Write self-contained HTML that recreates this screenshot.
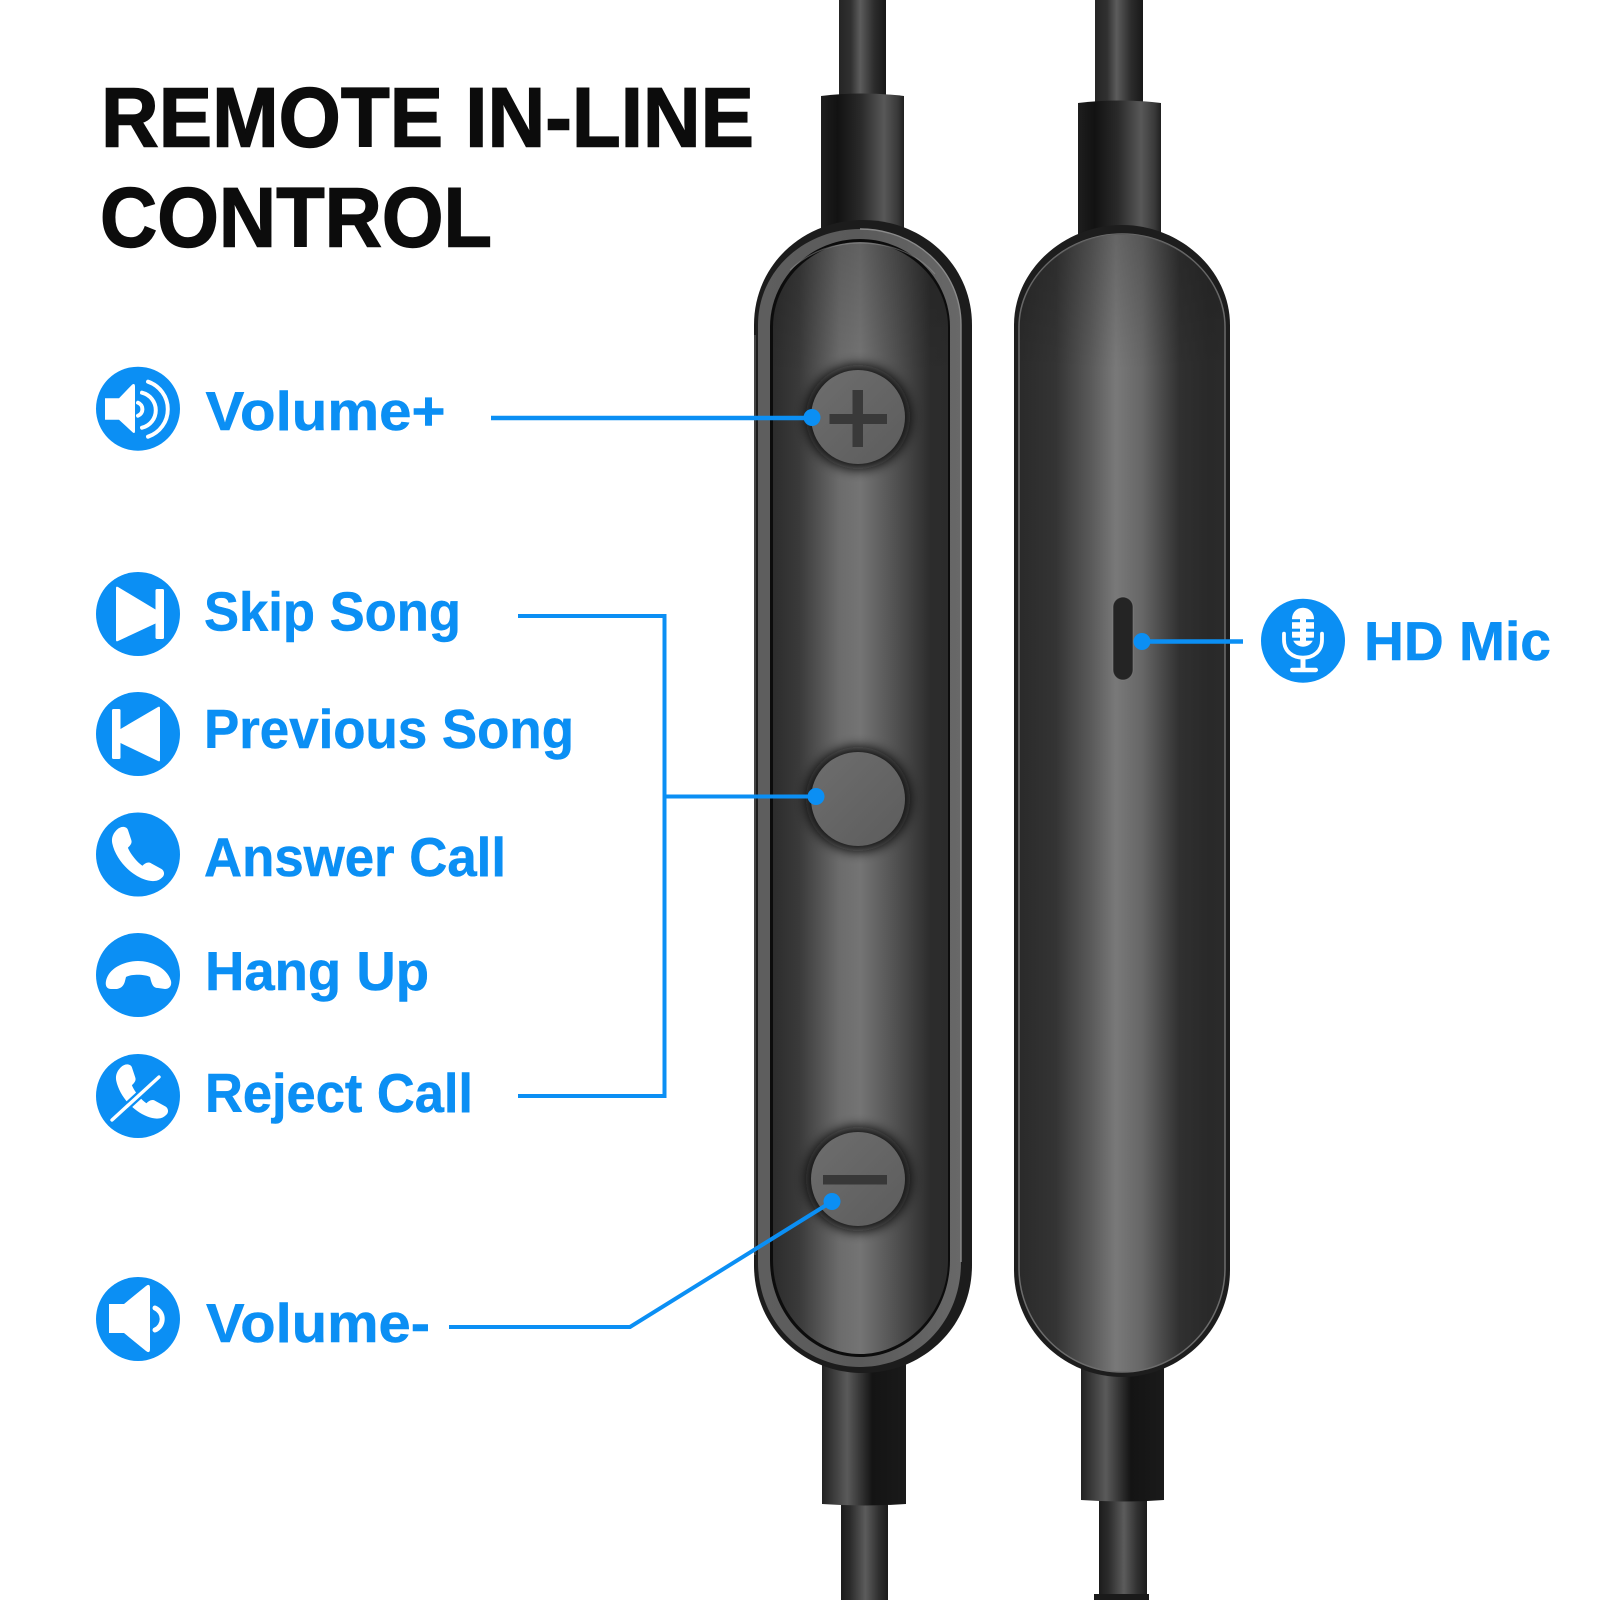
<!DOCTYPE html>
<html><head><meta charset="utf-8"><style>
html,body{margin:0;padding:0;background:#fff}
svg{display:block}
text{font-family:"Liberation Sans",Arial,sans-serif;font-weight:700}
.l{font-size:55px;fill:#0b8ff4;stroke:#0b8ff4;stroke-width:.5}
.t{font-size:84px;fill:#0c0c0c;stroke:#0c0c0c;stroke-width:1.4}
</style></head><body>
<svg width="1600" height="1600" viewBox="0 0 1600 1600" xmlns="http://www.w3.org/2000/svg">
<defs>
<linearGradient id="cordT" x1="0" x2="1" y1="0" y2="0"><stop offset="0" stop-color="#252525"/><stop offset=".25" stop-color="#303030"/><stop offset=".45" stop-color="#5c5c5c"/><stop offset=".75" stop-color="#2c2c2c"/><stop offset="1" stop-color="#181818"/></linearGradient>
<linearGradient id="cordB" x1="0" x2="1" y1="0" y2="0"><stop offset="0" stop-color="#1c1c1c"/><stop offset=".2" stop-color="#2c2c2c"/><stop offset=".52" stop-color="#5c5c5c"/><stop offset=".8" stop-color="#303030"/><stop offset="1" stop-color="#1c1c1c"/></linearGradient>
<linearGradient id="colT" x1="0" x2="1" y1="0" y2="0"><stop offset="0" stop-color="#1e1e1e"/><stop offset=".2" stop-color="#121212"/><stop offset=".48" stop-color="#2a2a2a"/><stop offset=".76" stop-color="#585858"/><stop offset=".92" stop-color="#3a3a3a"/><stop offset="1" stop-color="#202020"/></linearGradient>
<linearGradient id="colB" x1="0" x2="1" y1="0" y2="0"><stop offset="0" stop-color="#222"/><stop offset=".3" stop-color="#5a5a5a"/><stop offset=".6" stop-color="#141414"/><stop offset="1" stop-color="#1a1a1a"/></linearGradient>
<linearGradient id="inL" x1="0" x2="1" y1="0" y2="0"><stop offset="0" stop-color="#2c2c2c"/><stop offset=".15" stop-color="#3a3a3a"/><stop offset=".38" stop-color="#6c6c6c"/><stop offset=".5" stop-color="#747474"/><stop offset=".72" stop-color="#4e4e4e"/><stop offset=".9" stop-color="#2c2c2c"/><stop offset="1" stop-color="#2b2b2b"/></linearGradient>
<linearGradient id="inR" x1="0" x2="1" y1="0" y2="0"><stop offset="0" stop-color="#2a2a2a"/><stop offset=".18" stop-color="#343434"/><stop offset=".35" stop-color="#5a5a5a"/><stop offset=".47" stop-color="#797979"/><stop offset=".6" stop-color="#666"/><stop offset=".78" stop-color="#303030"/><stop offset=".92" stop-color="#292929"/><stop offset="1" stop-color="#2a2a2a"/></linearGradient>
<linearGradient id="bez" x1="0" x2="1" y1="0" y2="0"><stop offset="0" stop-color="#5e5e5e"/><stop offset=".5" stop-color="#5a5a5a"/><stop offset="1" stop-color="#686868"/></linearGradient>
<linearGradient id="btn" x1="0" x2="1" y1="0" y2="1"><stop offset="0" stop-color="#6e6e6e"/><stop offset="1" stop-color="#5c5c5c"/></linearGradient>
<linearGradient id="topShade" x1="0" x2="0" y1="0" y2="1" gradientUnits="objectBoundingBox"><stop offset="0" stop-color="#000" stop-opacity=".16"/><stop offset=".12" stop-color="#000" stop-opacity="0"/></linearGradient>
<filter id="bl" x="-30%" y="-30%" width="160%" height="160%"><feGaussianBlur stdDeviation="6"/></filter>
</defs>
<rect width="1600" height="1600" fill="#fff"/>

<!-- cords -->
<rect x="839" y="0" width="47" height="100" fill="url(#cordT)"/>
<rect x="1095" y="0" width="48" height="106" fill="url(#cordT)"/>
<rect x="841" y="1495" width="47" height="105" fill="url(#cordB)"/>
<rect x="1099" y="1495" width="48" height="105" fill="url(#cordB)"/>
<rect x="1094" y="1594" width="55" height="6" fill="#1a1a1a"/>

<!-- collars -->
<path d="M821,96 Q862,91 904,96 L904,240 L821,240 Z" fill="url(#colT)"/>
<path d="M1078,103 Q1120,98 1161,103 L1161,240 L1078,240 Z" fill="url(#colT)"/>
<path d="M822,1360 L906,1360 L906,1504 Q864,1507 822,1504 Z" fill="url(#colB)"/>
<path d="M1081,1360 L1164,1360 L1164,1500 Q1122,1503 1081,1500 Z" fill="url(#colB)"/>

<!-- left body -->
<path d="M754,325 C754,265 803,220 863,220 C923,220 972,265 972,325 L972,1265 C972,1327 923,1373 863,1373 C803,1373 754,1327 754,1265 Z" fill="#1c1c1c"/>
<path d="M758,325 C758,270 805,229 860,229 C915,229 961,270 961,325 L961,1262 C961,1324 915,1367 860,1367 C805,1367 758,1324 758,1262 Z" fill="url(#bez)"/>
<path d="M770,327 C770,279 810,239 860,239 C910,239 950,279 950,327 L950,1260 C950,1313 910,1357 860,1357 C810,1357 770,1313 770,1260 Z" fill="#0c0c0c"/>
<path d="M773,327 C773,281 812,242 860,242 C908,242 948,281 948,327 L948,1260 C948,1311 908,1354 860,1354 C812,1354 773,1311 773,1260 Z" fill="url(#inL)"/>
<path d="M773,327 C773,281 812,242 860,242 C908,242 948,281 948,327 L948,1260 C948,1311 908,1354 860,1354 C812,1354 773,1311 773,1260 Z" fill="url(#topShade)"/>
<path d="M790,270 C810,251 835,243 860,243 C885,243 915,251 935,274" fill="none" stroke="#9a9a9a" stroke-opacity=".45" stroke-width="1.2"/>
<path d="M860,229 C915,229 961,270 961,325 L961,1262" fill="none" stroke="#8a8a8a" stroke-width="1.4"/>
<path d="M755,335 L755,1255" fill="none" stroke="#777" stroke-opacity=".7" stroke-width="1.2"/>

<!-- right body -->
<path d="M1014,325 C1014,270 1064,225 1122,225 C1180,225 1230,270 1230,325 L1230,1270 C1230,1330 1180,1377 1122,1377 C1064,1377 1014,1330 1014,1270 Z" fill="#1d1d1d"/>
<path d="M1019,327 C1019,277 1066,234 1122,234 C1178,234 1225,277 1225,327 L1225,1268 C1225,1325 1178,1372 1122,1372 C1066,1372 1019,1325 1019,1268 Z" fill="url(#inR)" stroke="#6c6c6c" stroke-width="1.5"/>
<path d="M1019,327 C1019,277 1066,234 1122,234 C1178,234 1225,277 1225,327 L1225,1268 C1225,1325 1178,1372 1122,1372 C1066,1372 1019,1325 1019,1268 Z" fill="url(#topShade)"/>

<!-- buttons -->
<circle cx="858" cy="417" r="52" fill="#101010" filter="url(#bl)"/>
<circle cx="858" cy="799" r="52" fill="#101010" filter="url(#bl)"/>
<circle cx="858" cy="1179" r="52" fill="#101010" filter="url(#bl)"/>
<circle cx="858" cy="417" r="47" fill="url(#btn)"/>
<circle cx="858" cy="799" r="47" fill="url(#btn)"/>
<circle cx="858" cy="1179" r="47" fill="url(#btn)"/>
<path d="M829.5,414 H852.5 V390 H863 V414 H887 V424 H863 V447 H852.5 V424 H829.5 Z" fill="#393939"/>
<rect x="823" y="1175" width="64" height="9.5" fill="#383838"/>

<!-- mic slot -->
<rect x="1113" y="597" width="20" height="83" rx="10" fill="#242424" stroke="#8a8a8a" stroke-opacity=".5" stroke-width="1"/>

<!-- connectors -->
<g fill="none" stroke="#0b8ff4">
<path d="M491,418 H812" stroke-width="4.5"/>
<path d="M518,616 H664.5 V1096 H518" stroke-width="4"/>
<path d="M664.5,796.5 H816" stroke-width="4"/>
<path d="M449,1327 H630 L832,1201.5" stroke-width="4"/>
<path d="M1142,641.5 H1243" stroke-width="4.5"/>
</g>
<g fill="#0b8ff4">
<circle cx="812" cy="417.5" r="8.5"/><circle cx="816" cy="796.5" r="8.5"/><circle cx="832" cy="1201.5" r="8.5"/><circle cx="1142" cy="641.5" r="8.5"/>
<circle cx="138" cy="408.7" r="42"/><circle cx="138" cy="614" r="42"/><circle cx="138" cy="734" r="42"/><circle cx="138" cy="854.5" r="42"/><circle cx="138" cy="975" r="42"/><circle cx="138" cy="1096" r="42"/><circle cx="138" cy="1319" r="42"/><circle cx="1303" cy="640.7" r="42"/>
</g>

<!-- icons -->
<g transform="translate(138,408.7)" fill="#fff">
<path d="M-33,-10.5 H-19 L-6,-24 Q-3,-26 -3,-22 V22 Q-3,26 -6,23 L-19,11 H-33 Z"/>
<g fill="none" stroke="#fff" stroke-width="4" stroke-linecap="round">
<path d="M0,-6 A7,7 0 0 1 0,7"/><path d="M4,-16 A18,18 0 0 1 4,19"/><path d="M10,-27 A29,29 0 0 1 10,28"/></g>
</g>
<g transform="translate(138,614)" fill="#fff">
<path d="M-22,-26 Q-22,-28 -20,-27 L17.5,-4.5 V9.5 L-20,27 Q-22,28 -22,26 Z"/><rect x="17.5" y="-25" width="8.5" height="50" rx="1.5"/>
</g>
<g transform="translate(138,734)" fill="#fff">
<path d="M22,-26 Q22,-28 20,-27 L-17.5,-5 V9 L20,27 Q22,28 22,26 Z"/><rect x="-26" y="-25" width="8.5" height="50" rx="1.5"/>
</g>
<g transform="translate(138,854.5) scale(1.12)" fill="#fff">
<path d="M-19,-22 C-15,-26 -10,-25 -9,-22 L-6,-13 C-5,-10 -7,-8 -9,-6 C-7,-1 -1,7 4,10 C6,8 9,6 12,8 L21,13 C24,15 24,19 21,21 C17,25 10,24 5,22 C-8,17 -20,4 -23,-10 C-24,-15 -22,-19 -19,-22 Z"/>
</g>
<g transform="translate(138,975)" fill="#fff">
<path d="M-32,6 C-29,-8 -12,-14 0,-14 C12,-14 29,-8 33,6 C34,11 31,14 27,14 L20,13 C15,13 14,9 13,6 L12,2 C7,-1 -7,-1 -12,2 L-13,6 C-14,10 -16,13 -21,14 L-27,14 C-31,14 -33,11 -32,6 Z"/>
</g>
<g transform="translate(138,1096)">
<path transform="translate(4,-4) scale(1.12)" fill="#fff" d="M-19,-22 C-15,-26 -10,-25 -9,-22 L-6,-13 C-5,-10 -7,-8 -9,-6 C-7,-1 -1,7 4,10 C6,8 9,6 12,8 L21,13 C24,15 24,19 21,21 C17,25 10,24 5,22 C-8,17 -20,4 -23,-10 C-24,-15 -22,-19 -19,-22 Z"/>
<path d="M-26,24 L21,-19" stroke="#0b8ff4" stroke-width="8"/>
<path d="M-26,24 L21,-19" stroke="#fff" stroke-width="3.4" stroke-linecap="round"/>
</g>
<g transform="translate(138,1319)" fill="#fff">
<path d="M-29,-15 H-14 L8,-33 Q12,-36 12,-31 V30 Q12,35 8,32 L-14,14 H-29 Z"/>
<path d="M17,-11 A12,12 0 0 1 17,11" fill="none" stroke="#fff" stroke-width="5" stroke-linecap="round"/>
</g>
<g transform="translate(1303,640.7)">
<rect x="-11" y="-33" width="22" height="39" rx="11" fill="#fff"/>
<g fill="#0b8ff4"><rect x="-11" y="-21.5" width="8" height="3"/><rect x="3" y="-21.5" width="8" height="3"/><rect x="-11" y="-12" width="8" height="3"/><rect x="3" y="-12" width="8" height="3"/><rect x="-11" y="-3" width="8" height="3"/><rect x="3" y="-3" width="8" height="3"/></g>
<path d="M-19,-7 V-1 C-19,11 -10,17 0,17 C10,17 19,11 19,-1 V-7" fill="none" stroke="#fff" stroke-width="3.8" stroke-linecap="round"/>
<rect x="-2.5" y="16" width="5" height="12" fill="#fff"/>
<rect x="-13" y="27" width="28" height="4.5" rx="2.2" fill="#fff"/>
</g>

<!-- text -->
<text class="t" x="101" y="146.5" textLength="653" lengthAdjust="spacingAndGlyphs">REMOTE IN-LINE</text>
<text class="t" x="100" y="246.5" textLength="392" lengthAdjust="spacingAndGlyphs">CONTROL</text>
<text class="l" x="205.5" y="430" textLength="240" lengthAdjust="spacingAndGlyphs">Volume+</text>
<text class="l" x="204" y="630.5" textLength="257" lengthAdjust="spacingAndGlyphs">Skip Song</text>
<text class="l" x="204" y="748" textLength="370" lengthAdjust="spacingAndGlyphs">Previous Song</text>
<text class="l" x="204" y="876" textLength="302" lengthAdjust="spacingAndGlyphs">Answer Call</text>
<text class="l" x="205" y="990" textLength="224" lengthAdjust="spacingAndGlyphs">Hang Up</text>
<text class="l" x="205" y="1112" textLength="268" lengthAdjust="spacingAndGlyphs">Reject Call</text>
<text class="l" x="206" y="1342" textLength="224" lengthAdjust="spacingAndGlyphs">Volume-</text>
<text class="l" x="1364" y="660" textLength="187" lengthAdjust="spacingAndGlyphs">HD Mic</text>
</svg>
</body></html>
